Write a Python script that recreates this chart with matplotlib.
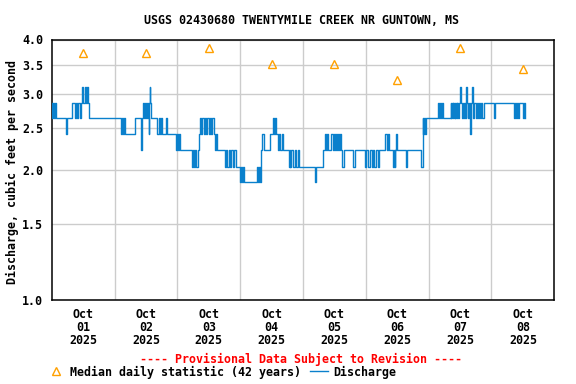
import matplotlib
matplotlib.use('Agg')
import matplotlib.pyplot as plt
from matplotlib.lines import Line2D
from matplotlib.ticker import FixedLocator, FixedFormatter, NullFormatter

# ---------------- data ----------------
# discharge (cfs), step series: hours since 2025-10-01 00:00 and value from that time on
hours = [0.0, 0.3, 0.6, 0.9, 1.2, 1.5, 5.5, 6.0, 7.8, 8.9, 9.3, 9.8, 10.2, 10.7, 11.1,
         11.6, 12.1, 12.6, 13.1, 13.4, 13.9, 14.4, 26.4, 26.9, 27.2, 27.7, 28.0, 31.8,
         34.2, 34.4, 34.8, 35.1, 35.5, 35.9, 36.3, 36.7, 37.0, 37.2, 37.5, 37.7, 38.0,
         40.4, 40.8, 41.3, 41.9, 42.2, 43.6, 43.9, 47.4, 47.8, 48.3, 48.7, 49.1,
         53.7, 54.1, 54.4, 54.7, 55.0, 55.7, 56.2, 56.7, 57.2, 57.6, 58.1, 58.5, 59.0,
         59.4, 60.0, 60.5, 61.0, 61.4, 61.9, 62.3, 62.7, 63.1, 66.1, 66.5, 67.1, 67.6,
         68.1, 68.6, 69.3, 69.7, 70.3, 71.9, 72.3, 72.8, 73.2, 73.6, 78.5, 78.9, 79.3,
         79.5, 79.8, 80.0, 80.5, 81.0, 83.3, 84.7, 85.1, 85.4, 85.7, 86.6, 87.0, 87.4,
         87.8, 88.2, 90.5, 90.9, 91.2, 91.6, 92.2, 92.9, 93.4, 93.9, 94.5, 100.6, 101.1,
         103.5, 104.4, 104.8, 105.1, 105.4, 106.8, 107.3, 107.7, 108.1, 108.6, 109.1,
         109.5, 109.9, 110.3, 110.6, 111.0, 111.8, 115.1, 116.0, 119.5, 120.0, 121.0,
         121.5, 122.2, 122.7, 123.3, 123.9, 124.7, 125.1, 127.5, 127.9, 128.3, 128.8,
         130.4, 130.8, 131.1, 131.3, 131.6, 132.0, 135.2, 135.6, 141.0, 141.7, 142.0,
         142.4, 142.7, 143.0, 147.6, 147.9, 148.3, 148.7, 149.1, 149.5, 152.4, 152.65,
         152.9, 153.15, 153.4, 153.65, 153.9, 154.15, 154.4, 154.65, 154.9, 155.3, 155.7,
         156.0, 156.25, 156.6, 157.0, 157.4, 157.8, 158.2, 158.4, 158.65, 159.0, 159.4,
         159.9, 160.15, 160.6, 160.85, 161.1, 161.5, 161.9, 162.3, 162.7, 163.1, 163.5,
         164.1, 164.5, 165.0, 168.8, 169.2, 176.6, 177.0, 177.4, 177.6, 178.0, 178.4,
         180.0, 180.3, 180.7]
flow = [2.86, 2.63, 2.86, 2.63, 2.86, 2.63, 2.42, 2.63, 2.86, 2.63, 2.86, 2.63, 2.86, 2.63, 2.86,
        3.11, 2.86, 3.11, 2.86, 3.11, 2.86, 2.63, 2.42, 2.63, 2.42, 2.63, 2.42, 2.63,
        2.22, 2.63, 2.86, 2.63, 2.86, 2.63, 2.86, 2.63, 2.42, 2.86, 3.11, 2.86, 2.63,
        2.42, 2.63, 2.42, 2.63, 2.42, 2.63, 2.42, 2.22, 2.42, 2.22, 2.42, 2.22,
        2.03, 2.22, 2.03, 2.22, 2.03, 2.22, 2.42, 2.63, 2.42, 2.63, 2.42, 2.63, 2.42,
        2.63, 2.42, 2.63, 2.42, 2.63, 2.42, 2.22, 2.42, 2.22, 2.03, 2.22, 2.03, 2.22,
        2.03, 2.22, 2.03, 2.22, 2.03, 1.87, 2.03, 1.87, 2.03, 1.87, 2.03, 1.87, 2.03,
        1.87, 2.03, 2.22, 2.42, 2.22, 2.42, 2.63, 2.42, 2.63, 2.42, 2.22, 2.42, 2.22,
        2.42, 2.22, 2.03, 2.22, 2.03, 2.22, 2.03, 2.22, 2.03, 2.22, 2.03, 1.87, 2.03,
        2.22, 2.42, 2.22, 2.42, 2.22, 2.42, 2.22, 2.42, 2.22, 2.42, 2.22,
        2.42, 2.22, 2.42, 2.22, 2.03, 2.22, 2.03, 2.22, 2.03, 2.22, 2.03,
        2.22, 2.03, 2.22, 2.03, 2.22, 2.03, 2.22, 2.42, 2.22, 2.42, 2.22,
        2.03, 2.22, 2.03, 2.22, 2.42, 2.22, 2.03, 2.22, 2.03, 2.63, 2.42,
        2.63, 2.42, 2.63, 2.86, 2.63, 2.86, 2.63, 2.86, 2.63, 2.86, 2.63,
        2.86, 2.63, 2.86, 2.63, 2.86, 2.63, 2.86, 2.63, 2.86, 2.63, 2.86,
        3.11, 2.86, 2.63, 2.86, 2.63, 2.86, 2.63, 3.11, 2.86, 2.63, 2.86,
        2.42, 2.86, 3.11, 2.86, 2.63, 2.86, 2.63, 2.86, 2.63, 2.86, 2.63,
        2.86, 2.63, 2.86, 2.63, 2.86, 2.63, 2.86, 2.63, 2.86, 2.63, 2.86,
        2.63, 2.86, 2.63]

# median daily statistic at noon of each day
median_hours = [12, 36, 60, 84, 108, 132, 156, 180]
median_vals = [3.72, 3.72, 3.82, 3.52, 3.52, 3.22, 3.82, 3.41]

day_labels = ['Oct\n01\n2025', 'Oct\n02\n2025', 'Oct\n03\n2025', 'Oct\n04\n2025',
              'Oct\n05\n2025', 'Oct\n06\n2025', 'Oct\n07\n2025', 'Oct\n08\n2025']
day_bounds = [24, 48, 72, 96, 120, 144, 168]
y_ticks = [1.0, 1.5, 2.0, 2.5, 3.0, 3.5, 4.0]
y_labels = ['1.0', '1.5', '2.0', '2.5', '3.0', '3.5', '4.0']

# ---------------- style ----------------
FONT = dict(family='DejaVu Sans Mono', weight='bold', size=8.4)
BLUE = '#0a80cc'
ORANGE = '#ffa000'

W, H = 576, 384
fig = plt.figure(figsize=(W / 100, H / 100), dpi=100)
left, right, top, bottom = 51.7, 554.3, 39.5, 300.0
ax = fig.add_axes([left / W, 1 - bottom / H, (right - left) / W, (bottom - top) / H])

ax.set_yscale('log')
ax.set_ylim(1.0, 4.0)
ax.set_xlim(0, 192)

ax.step(hours, flow, where='post', color=BLUE, lw=1.0, zorder=3)
ax.plot(median_hours, median_vals, ls='none', marker='^', ms=6.3, mfc='none',
        mec=ORANGE, mew=1.0, zorder=4)

ax.yaxis.set_major_locator(FixedLocator(y_ticks))
ax.yaxis.set_major_formatter(FixedFormatter(y_labels))
ax.yaxis.set_minor_locator(FixedLocator([]))
ax.yaxis.set_minor_formatter(NullFormatter())
ax.xaxis.set_major_locator(FixedLocator(median_hours))
ax.xaxis.set_major_formatter(FixedFormatter(day_labels))
ax.xaxis.set_minor_locator(FixedLocator(day_bounds))

ax.grid(True, axis='y', which='major', color='#cccccc', lw=1.0, zorder=0)
ax.grid(True, axis='x', which='minor', color='#cccccc', lw=1.0, zorder=0)
ax.grid(False, axis='x', which='major')
ax.set_axisbelow(True)

ax.tick_params(axis='both', which='both', length=0)
ax.tick_params(axis='y', pad=6)
ax.tick_params(axis='x', pad=6)
for lab in ax.get_yticklabels() + ax.get_xticklabels():
    lab.set_fontfamily(FONT['family'])
    lab.set_fontweight('bold')
    lab.set_fontsize(FONT['size'])
for lab in ax.get_xticklabels():
    lab.set_linespacing(1.0)
for s in ax.spines.values():
    s.set_color('black')
    s.set_linewidth(1.1)

fig.text(301.5 / W, 1 - 20 / H, 'USGS 02430680 TWENTYMILE CREEK NR GUNTOWN, MS',
         ha='center', va='center', **FONT)
fig.text(12 / W, 1 - 172 / H, 'Discharge, cubic feet per second', rotation=90,
         ha='center', va='center', **FONT)
fig.text(301 / W, 1 - 359 / H, '---- Provisional Data Subject to Revision ----',
         ha='center', va='center', color='red', **FONT)

handles = [Line2D([], [], ls='none', marker='^', ms=6.3, mfc='none', mec=ORANGE, mew=1.0),
           Line2D([], [], color=BLUE, lw=1.0)]
fig.legend(handles, ['Median daily statistic (42 years)', 'Discharge'],
           loc='center left', bbox_to_anchor=(47.5 / W, 1 - 372 / H), ncol=2,
           frameon=False, borderpad=0, borderaxespad=0, handlelength=1.5,
           handletextpad=0.45, columnspacing=0.75,
           prop=dict(family=FONT['family'], weight='bold', size=FONT['size']))

fig.savefig('out.png', dpi=100)
